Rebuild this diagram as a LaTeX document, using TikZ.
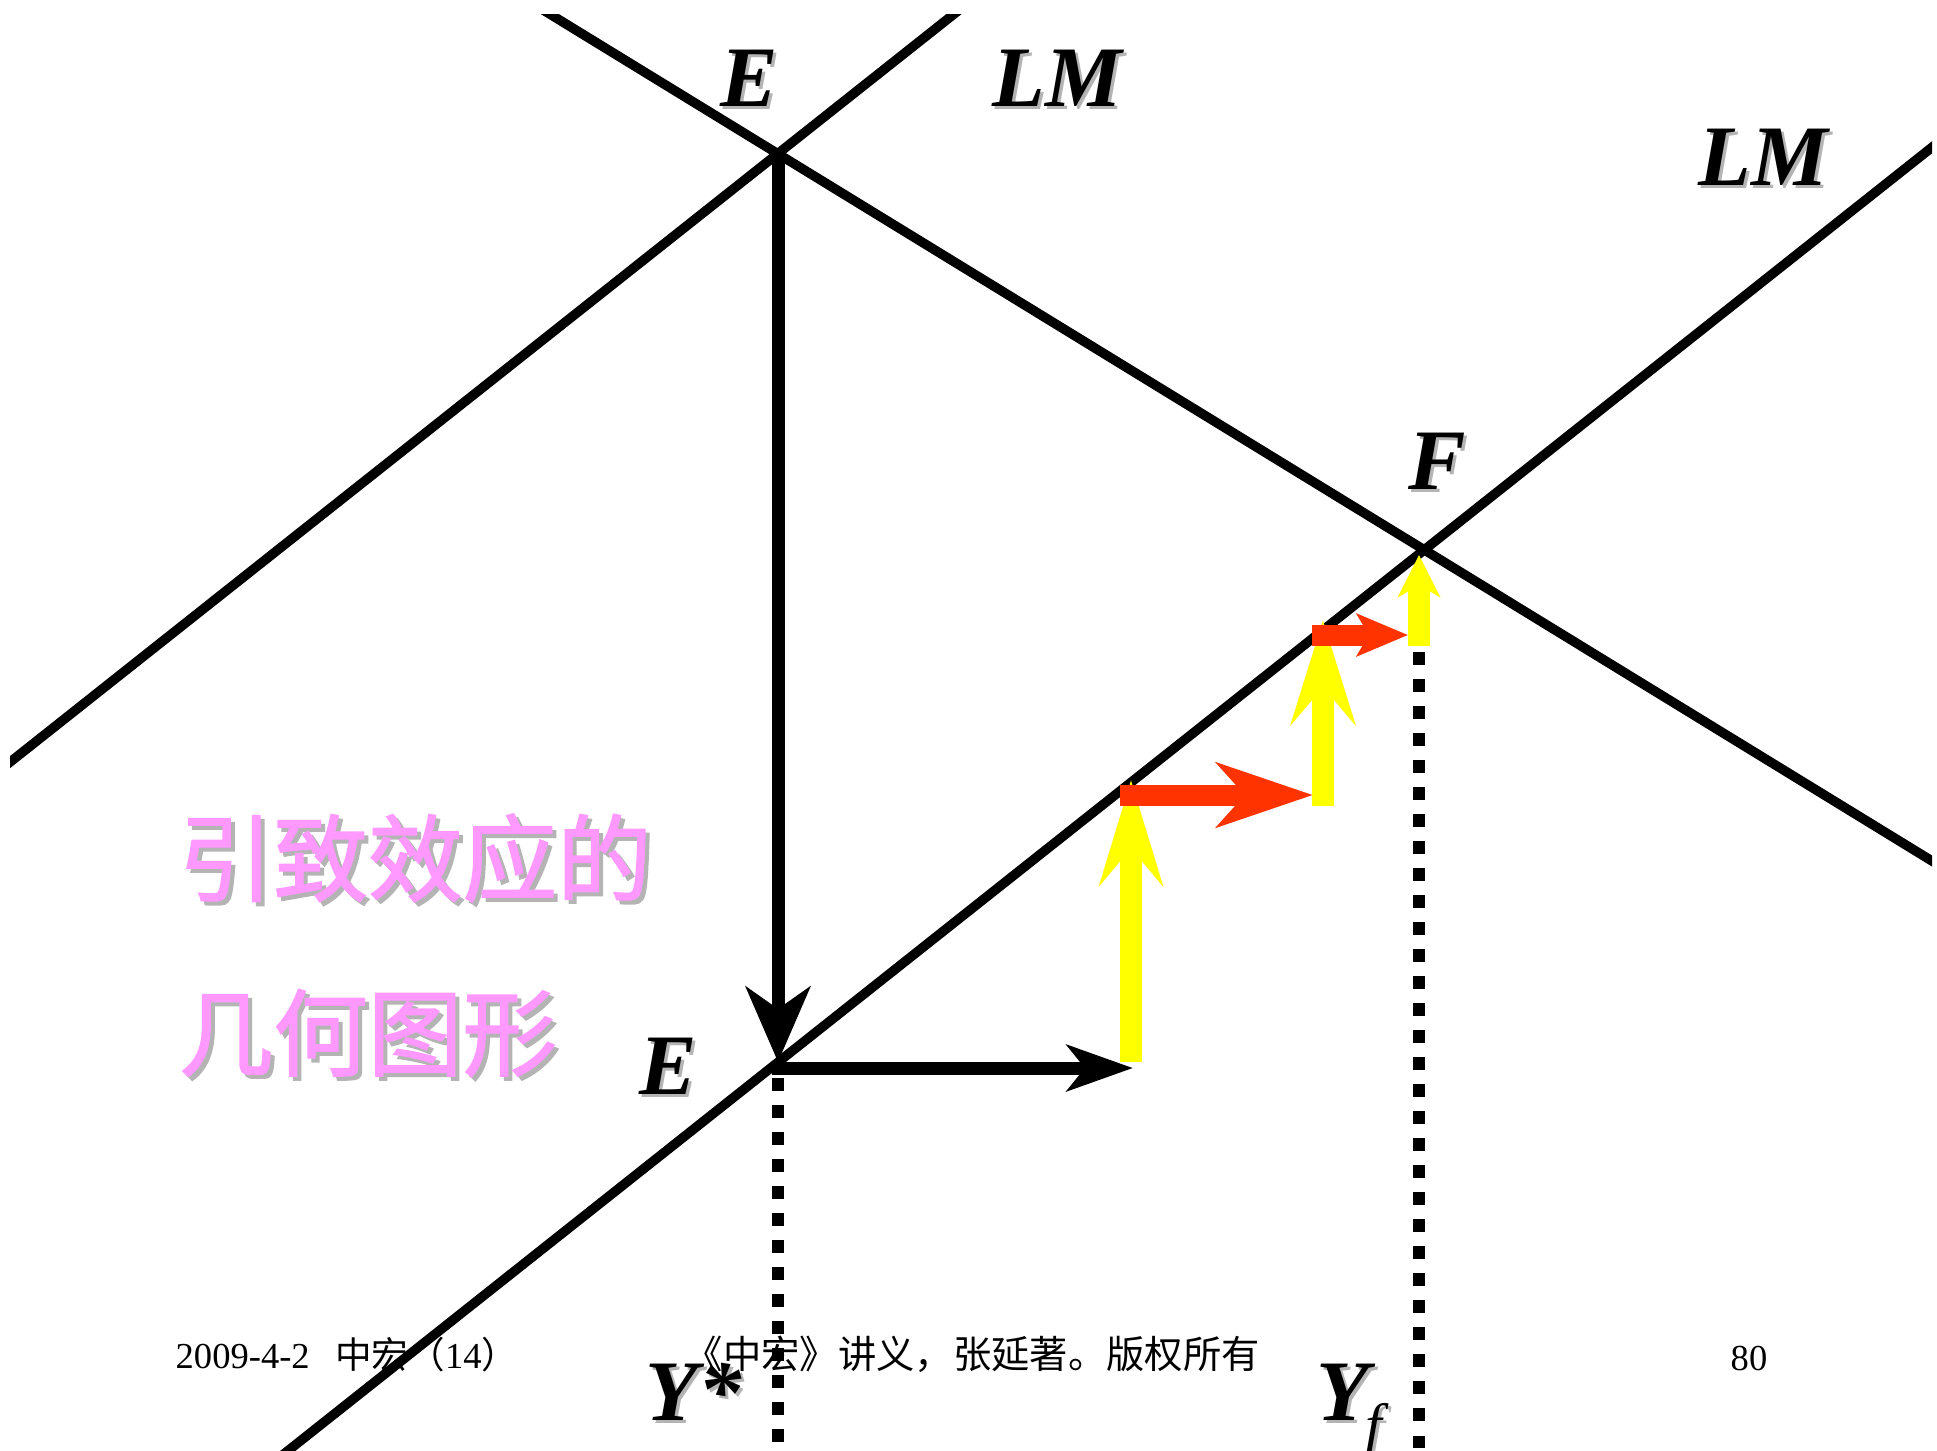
\documentclass[tikz,border=0pt]{standalone}
\usepackage{fontspec}
\setmainfont{Liberation Serif}
\newfontfamily\cjk{Noto Sans CJK SC}
\newfontfamily\cjkfb{Noto Sans CJK SC}[FakeBold=1.6]
\usetikzlibrary{arrows.meta}
\definecolor{ylw}{HTML}{FFFF00}
\definecolor{rd}{HTML}{FF3300}
\definecolor{pnk}{HTML}{FF99FF}
\definecolor{shd}{HTML}{B4B4B4}
\tikzset{
  curve/.style={line width=0.095cm, line cap=butt},
  blkarrow/.style={line width=0.13cm, line cap=butt},
  dotline/.style={line width=0.125cm, line cap=butt, dash pattern=on 0.125cm off 0.145cm},
  yarrow/.style={line width=0.22cm, line cap=butt, color=ylw},
  rarrow/.style={line width=0.21cm, line cap=butt, color=rd},
  lbl/.style={inner sep=0pt, anchor=base west, font=\fontsize{24.5}{28}\selectfont\bfseries\itshape},
  lblsh/.style={lbl, text=shd},
  cjkt/.style={inner sep=0pt, anchor=west, text=pnk, font=\cjkfb\fontsize{26.9}{30}\selectfont},
  cjksh/.style={cjkt, text=shd},
  foot/.style={inner sep=0pt, anchor=base west, font=\fontsize{10.4}{12}\selectfont}
}
\begin{document}
\begin{tikzpicture}[x=0.01cm, y=-0.01cm]
\fill[white] (0,0) rectangle (1937,1450);
\useasboundingbox (0,0) rectangle (1937,1450);

% key points
\coordinate (E) at (778,153);
\coordinate (F) at (1424,550);
\coordinate (Ep) at (778,1062);
\coordinate (IS1) at (522,-3);
\coordinate (IS2) at (1950,872);
\coordinate (LMa1) at (-5,774);
\coordinate (LMa2) at (978,-5);
\coordinate (LMb1) at (275,1461);
\coordinate (LMb2) at (1950,133);

\begin{scope}
\clip (10,14) rectangle (1932,1452);
\draw[curve] (IS1) -- (IS2);
\draw[curve] (LMa1) -- (LMa2);
\draw[curve] (LMb1) -- (LMb2);
\end{scope}

% dotted verticals
\coordinate (D1a) at (778,1078);
\coordinate (D1b) at (778,1455);
\coordinate (D2a) at (1419,652);
\coordinate (D2b) at (1419,1455);
\draw[dotline] (D1a) -- (D1b);
\draw[dotline] (D2a) -- (D2b);

% black arrows
\draw[blkarrow, -{Stealth[length=0.75cm, width=0.64cm, inset=0.22cm]}] (E) -- (Ep);
\coordinate (H1) at (772,1068);
\coordinate (H2) at (1133,1068);
\draw[blkarrow, -{Stealth[length=0.66cm, width=0.46cm, inset=0.18cm]}] (H1) -- (H2);

% step arrows
\coordinate (Y1a) at (1131,1062);
\coordinate (Y1b) at (1131,780);
\coordinate (R1a) at (1120,795);
\coordinate (R1b) at (1313,795);
\coordinate (Y2a) at (1323,806);
\coordinate (Y2b) at (1323,620);
\coordinate (R2a) at (1312,635);
\coordinate (R2b) at (1408,635);
\coordinate (Y3a) at (1419,646);
\coordinate (Y3b) at (1419,555);
\draw[yarrow, -{Stealth[length=1.05cm, width=0.63cm, inset=0.37cm]}] (Y1a) -- (Y1b);
\draw[rarrow, -{Stealth[length=0.96cm, width=0.64cm, inset=0.28cm]}] (R1a) -- (R1b);
\draw[yarrow, -{Stealth[length=1.04cm, width=0.64cm, inset=0.37cm]}] (Y2a) -- (Y2b);
\draw[rarrow, -{Stealth[length=0.51cm, width=0.42cm, inset=0.12cm]}] (R2a) -- (R2b);
\draw[yarrow, -{Stealth[length=0.42cm, width=0.42cm, inset=0.12cm]}] (Y3a) -- (Y3b);

% labels with shadows
\node[lblsh] (EtopS) at (723,109) {E};
\node[lbl] (Etop) at (720,106) {E};
\node[lblsh] (LMtopS) at (995,109) {LM};
\node[lbl] (LMtop) at (992,106) {LM};
\node[lblsh] (LMrS) at (1701,188) {LM};
\node[lbl] (LMr) at (1698,185) {LM};
\node[lblsh] (FlS) at (1411,492) {F};
\node[lbl] (Fl) at (1408,489) {F};
\node[lblsh] (EbotS) at (642,1097) {E};
\node[lbl] (Ebot) at (639,1094) {E};
\node[lblsh] (YsS) at (648,1423) {Y*};
\node[lbl] (Ys) at (645,1420) {Y*};
\node[lblsh] (YfS) at (1319,1423) {Y\kern-1pt\raisebox{-0.3em}{\fontsize{17}{17}\selectfont\mdseries f}};
\node[lbl] (Yf) at (1316,1420) {Y\kern-1pt\raisebox{-0.3em}{\fontsize{17}{17}\selectfont\mdseries f}};

% pink title
\node[cjksh] (T1S) at (182,862) {引致效应的};
\node[cjkt] (T1) at (178,858) {引致效应的};
\node[cjksh] (T2S) at (182,1037) {几何图形};
\node[cjkt] (T2) at (178,1033) {几何图形};

% footer
\node[foot] (date) at (175,1368) {2009-4-2\hspace{0.7em}{\cjk 中宏（}14{\cjk ）}};
\node[foot] (title) at (684,1368) {\cjk\fontsize{10.9}{12}\selectfont 《中宏》讲义，张延著。版权所有};
\node[foot, anchor=base] (page) at (1749,1370) {80};
\end{tikzpicture}
\end{document}
